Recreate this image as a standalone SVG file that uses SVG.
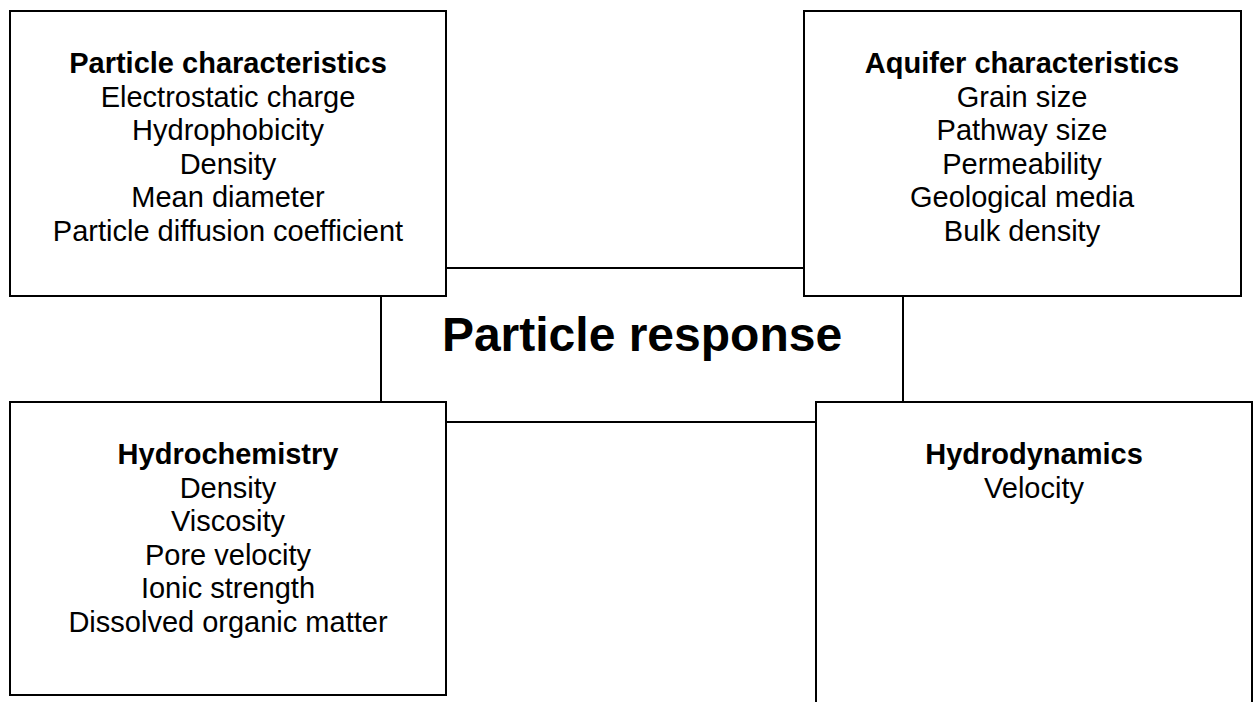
<svg xmlns="http://www.w3.org/2000/svg" width="1255" height="702" viewBox="0 0 1255 702">
<style>
.box{fill:#fff;stroke:#000;stroke-width:2}
.conn{fill:none;stroke:#000;stroke-width:2}
text{font-family:"Liberation Sans",Arial,sans-serif;font-size:29px;fill:#000;text-anchor:middle}
.h{font-weight:bold}
.big{font-size:48px;font-weight:bold}
</style>
<rect width="1255" height="702" fill="#fff"/>
<g id="connectors">
<rect class="conn" x="381" y="268" width="522" height="154"/>
</g>
<g id="particle-response">
<text class="big" x="642" y="351">Particle response</text>
</g>
<g id="particle-characteristics">
<rect class="box" x="10" y="11" width="436" height="285"/>
<text x="228" y="73"><tspan class="h" x="228">Particle characteristics</tspan><tspan x="228" dy="33.5">Electrostatic charge</tspan><tspan x="228" dy="33.5">Hydrophobicity</tspan><tspan x="228" dy="33.5">Density</tspan><tspan x="228" dy="33.5">Mean diameter</tspan><tspan x="228" dy="33.5">Particle diffusion coefficient</tspan></text>
</g>
<g id="aquifer-characteristics">
<rect class="box" x="804" y="11" width="437" height="285"/>
<text x="1022" y="73"><tspan class="h" x="1022">Aquifer characteristics</tspan><tspan x="1022" dy="33.5">Grain size</tspan><tspan x="1022" dy="33.5">Pathway size</tspan><tspan x="1022" dy="33.5">Permeability</tspan><tspan x="1022" dy="33.5">Geological media</tspan><tspan x="1022" dy="33.5">Bulk density</tspan></text>
</g>
<g id="hydrochemistry">
<rect class="box" x="10" y="402" width="436" height="293"/>
<text x="228" y="464"><tspan class="h" x="228">Hydrochemistry</tspan><tspan x="228" dy="33.5">Density</tspan><tspan x="228" dy="33.5">Viscosity</tspan><tspan x="228" dy="33.5">Pore velocity</tspan><tspan x="228" dy="33.5">Ionic strength</tspan><tspan x="228" dy="33.5">Dissolved organic matter</tspan></text>
</g>
<g id="hydrodynamics">
<rect class="box" x="816" y="402" width="436" height="320"/>
<text x="1034" y="464"><tspan class="h" x="1034">Hydrodynamics</tspan><tspan x="1034" dy="33.5">Velocity</tspan></text>
</g>
</svg>
